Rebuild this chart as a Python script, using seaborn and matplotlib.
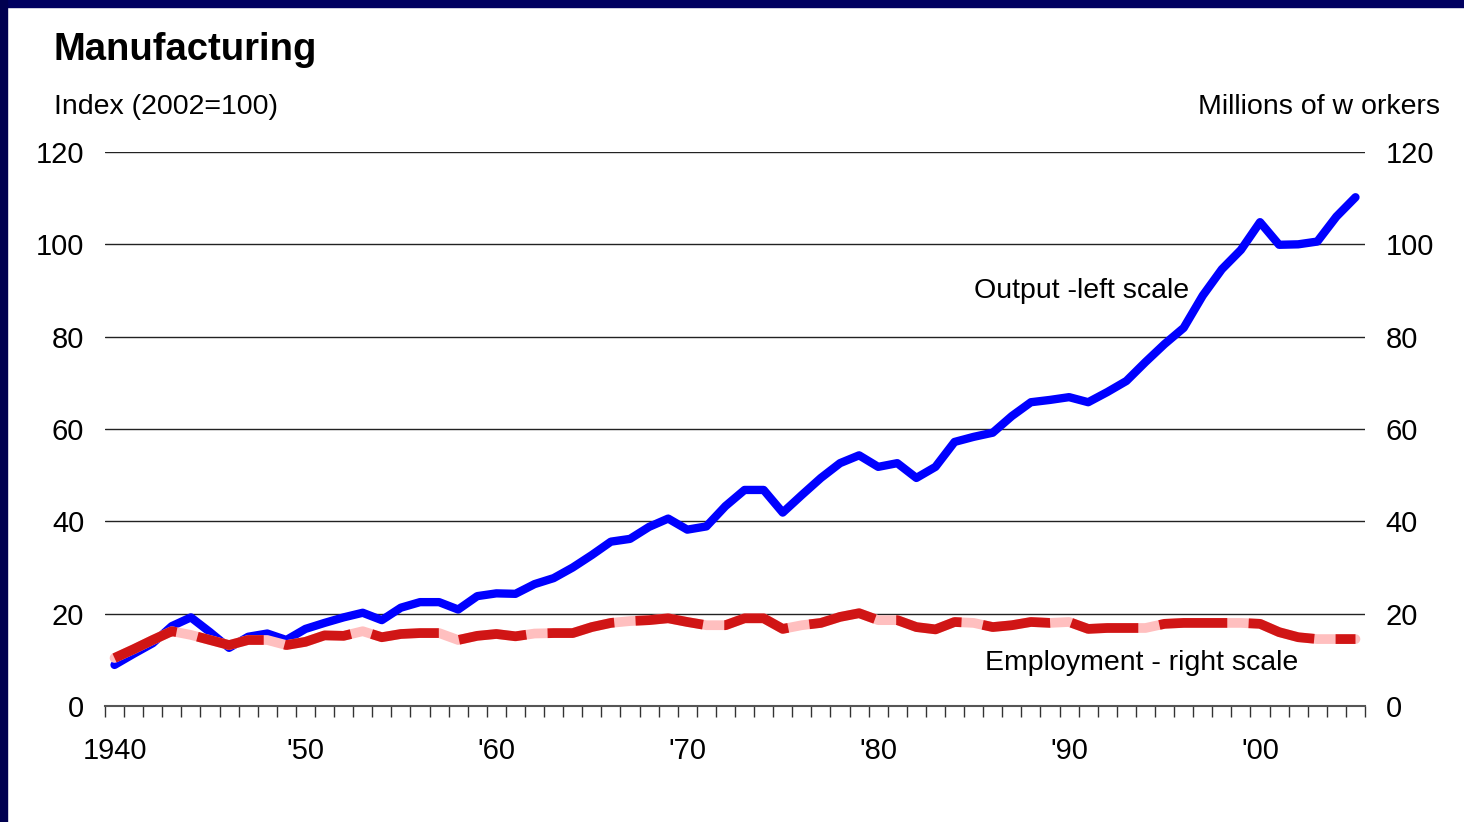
import numpy as np
import pandas as pd
import matplotlib
matplotlib.use('Agg')
import matplotlib.pyplot as plt
import seaborn as sns
from matplotlib.patches import Rectangle

years = list(range(1940, 2006))

# Output index, left scale (2002=100)
output_index = [
    8.9, 11.3, 13.6, 17.3, 19.2, 16.0, 12.6, 15.0, 15.7, 14.3,
    16.7, 18.0, 19.2, 20.2, 18.6, 21.3, 22.5, 22.5, 20.9, 23.8,
    24.4, 24.3, 26.4, 27.7, 30.0, 32.7, 35.6, 36.2, 38.8, 40.6,
    38.2, 38.9, 43.3, 46.8, 46.8, 41.9, 45.7, 49.4, 52.6, 54.3,
    51.8, 52.6, 49.4, 51.8, 57.2, 58.3, 59.2, 62.8, 65.8, 66.3,
    66.9, 65.8, 68.0, 70.4, 74.5, 78.4, 81.9, 88.9, 94.6, 98.8,
    104.8, 99.9, 100.0, 100.6, 106.0, 110.2,
]

# Employment, millions of workers, right scale
employment = [
    10.4, 12.3, 14.3, 16.2, 15.4, 14.3, 13.2, 14.3, 14.3, 13.2,
    13.9, 15.3, 15.2, 16.2, 14.9, 15.6, 15.8, 15.8, 14.3, 15.2,
    15.6, 15.1, 15.7, 15.8, 15.8, 17.1, 18.0, 18.4, 18.6, 19.0,
    18.2, 17.5, 17.5, 19.0, 19.0, 16.7, 17.5, 18.0, 19.3, 20.1,
    18.6, 18.6, 17.1, 16.6, 18.2, 18.0, 17.1, 17.5, 18.2, 18.0,
    18.2, 16.7, 16.9, 16.9, 16.9, 17.8, 18.0, 18.0, 18.0, 18.0,
    17.8, 16.0, 14.9, 14.5, 14.5, 14.5,
]

y_ticks = [0, 20, 40, 60, 80, 100, 120]
x_tick_years = [1940, 1950, 1960, 1970, 1980, 1990, 2000]
x_tick_labels = ['1940', "'50", "'60", "'70", "'80", "'90", "'00"]

df = pd.DataFrame({'year': years, 'output': output_index, 'employment': employment})

sns.set_theme(style='white')
plt.rcParams['font.family'] = ['Liberation Sans', 'DejaVu Sans']
plt.rcParams['text.color'] = 'black'

fig = plt.figure(figsize=(14.64, 8.22), dpi=100)
fig.patch.set_facecolor('white')
ax = fig.add_axes([0.0717, 0.1411, 0.8607, 0.674])

# navy frame strips on top and left
fig.add_artist(Rectangle((0, 1 - 7 / 822), 1, 7 / 822, transform=fig.transFigure,
                         color='#000060', zorder=0))
fig.add_artist(Rectangle((0, 0), 7 / 1464, 1, transform=fig.transFigure,
                         color='#000050', zorder=0))

for y in y_ticks[1:]:
    ax.axhline(y, color='#222222', lw=1.0, zorder=0)

sns.lineplot(data=df, x='year', y='output', ax=ax, color='#0000FF', lw=6)

ax2 = ax.twinx()
sns.lineplot(data=df, x='year', y='employment', ax=ax2, color='#FFBFBF', lw=7)
sns.lineplot(data=df, x='year', y='employment', ax=ax2, color='#D01515', lw=7)
ax2.lines[-1].set_dashes([7, 2.2])
ax2.lines[-1].set_dash_capstyle('butt')

for a in (ax, ax2):
    a.set_xlim(1939.5, 2005.5)
    a.set_ylim(0, 120)
    a.set_yticks(y_ticks)
    a.set_xlabel('')
    a.set_ylabel('')
    for s in a.spines.values():
        s.set_visible(False)
    a.tick_params(axis='y', length=0, labelsize=21, colors='black')

ax.tick_params(axis='y', pad=15)
ax2.tick_params(axis='y', pad=15)
ax.spines['bottom'].set_visible(True)
ax.spines['bottom'].set_color('#555555')
ax.spines['bottom'].set_linewidth(1.5)

ax.set_xticks(x_tick_years)
ax.set_xticklabels(x_tick_labels)
ax.set_xticks(np.arange(1939.5, 2006, 1), minor=True)
ax.tick_params(axis='x', which='major', length=0, labelsize=21, pad=22, colors='black')
ax.tick_params(axis='x', which='minor', length=8, width=1, color='#333333',
               direction='out', bottom=True)
ax2.tick_params(axis='x', bottom=False, labelbottom=False)

ax.text(1996.3, 89.9, 'Output -left scale', fontsize=20.5, ha='right', va='center')
ax.text(1985.6, 9.3, 'Employment - right scale', fontsize=20.5, ha='left', va='center')

fig.text(54 / 1464, 1 - 50 / 822, 'Manufacturing', fontsize=27.5, fontweight='bold',
         ha='left', va='center')
fig.text(54 / 1464, 1 - 107 / 822, 'Index (2002=100)', fontsize=20.5, ha='left', va='center')
fig.text(1440 / 1464, 1 - 107 / 822, 'Millions of w orkers', fontsize=20.5, ha='right',
         va='center')

fig.savefig('out.png', dpi=100, facecolor='white')
